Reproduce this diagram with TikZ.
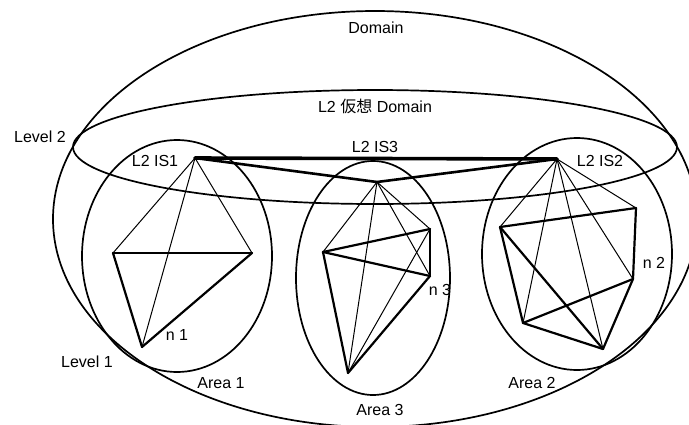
\documentclass[tikz,border=0pt]{standalone}
\usepackage{fontspec}
\setmainfont{Liberation Sans}
\newfontfamily\cjkfont{Noto Sans CJK JP}
\begin{document}
\begin{tikzpicture}[x=1pt,y=-1pt,
  lbl/.style={font=\fontsize{16}{18}\selectfont, inner sep=0pt, anchor=base},
  ring/.style={draw, line width=1.7pt},
  thinedge/.style={draw, line width=1pt},
  thickedge/.style={draw, line width=2.2pt, line cap=round, line join=round},
  backbone/.style={draw, line width=2.6pt, line cap=round},
  mainlink/.style={draw, line width=3.6pt, line cap=round}]
\useasboundingbox (0,0) rectangle (689,424);
% ellipses
\draw[ring] (375,219) ellipse [x radius=322, y radius=208];
\draw[ring] (375,147) ellipse [x radius=302, y radius=57];
\draw[ring] (177,256) ellipse [x radius=95, y radius=116];
\draw[ring] (373,278) ellipse [x radius=77, y radius=117];
\draw[ring] (577,254) ellipse [x radius=95, y radius=116];
% points
\coordinate (IS1) at (195,158);
\coordinate (A1L) at (113,253);
\coordinate (A1R) at (252,253);
\coordinate (N1) at (142,347);
\coordinate (IS3) at (377,182);
\coordinate (A3L) at (323,252);
\coordinate (A3TR) at (430,229);
\coordinate (A3R) at (430,276);
\coordinate (N3) at (348,373);
\coordinate (IS2) at (557,159);
\coordinate (A2UL) at (500,227);
\coordinate (A2UR) at (636,208);
\coordinate (A2R) at (633,279);
\coordinate (A2BL) at (523,323);
\coordinate (A2B) at (603,349);
% area 1
\draw[thinedge] (IS1) -- (A1L);
\draw[thinedge] (IS1) -- (A1R);
\draw[thinedge] (IS1) -- (N1);
\draw[thickedge] (A1L) -- (A1R);
\draw[thickedge] (A1L) -- (N1);
\draw[thickedge] (A1R) -- (N1);
% area 3
\draw[thinedge] (IS3) -- (A3L);
\draw[thinedge] (IS3) -- (A3TR);
\draw[thinedge] (IS3) -- (A3R);
\draw[thinedge] (IS3) -- (N3);
\draw[thinedge] (A3TR) -- (N3);
\draw[thickedge] (A3L) -- (A3TR);
\draw[thickedge] (A3L) -- (A3R);
\draw[thickedge] (A3TR) -- (A3R);
\draw[thickedge] (A3L) -- (N3);
\draw[thickedge] (A3R) -- (N3);
% area 2
\draw[thinedge] (IS2) -- (A2UL);
\draw[thinedge] (IS2) -- (A2UR);
\draw[thinedge] (IS2) -- (A2BL);
\draw[thinedge] (IS2) -- (A2B);
\draw[thinedge] (IS2) -- (A2R);
\draw[thickedge] (A2UL) -- (A2UR);
\draw[thickedge] (A2UR) -- (A2R);
\draw[thickedge] (A2UL) -- (A2BL);
\draw[thickedge] (A2UL) -- (A2B);
\draw[thickedge] (A2BL) -- (A2B);
\draw[thickedge] (A2BL) -- (A2R);
\draw[thickedge] (A2R) -- (A2B);
% backbone
\draw[mainlink] (IS1) -- (IS2);
\draw[backbone] (IS1) -- (IS3);
\draw[backbone] (IS3) -- (IS2);
% labels
\node[lbl] (tdom) at (376,33.3) {Domain};
\node[lbl] (tl2d) at (375,112) {L2 {\cjkfont 仮想} Domain};
\node[lbl] (tis3) at (375,152) {L2 IS3};
\node[lbl] (tlv2) at (40,142) {Level 2};
\node[lbl] (tis1) at (155,166) {L2 IS1};
\node[lbl] (tis2) at (600,166) {L2 IS2};
\node[lbl] (tn1) at (177,340) {n 1};
\node[lbl] (tn3) at (440,295) {n 3};
\node[lbl] (tn2) at (654,268) {n 2};
\node[lbl] (tlv1) at (87,367) {Level 1};
\node[lbl] (ta1) at (221,388) {Area 1};
\node[lbl] (ta3) at (380,415) {Area 3};
\node[lbl] (ta2) at (532,388) {Area 2};
\end{tikzpicture}
\end{document}
